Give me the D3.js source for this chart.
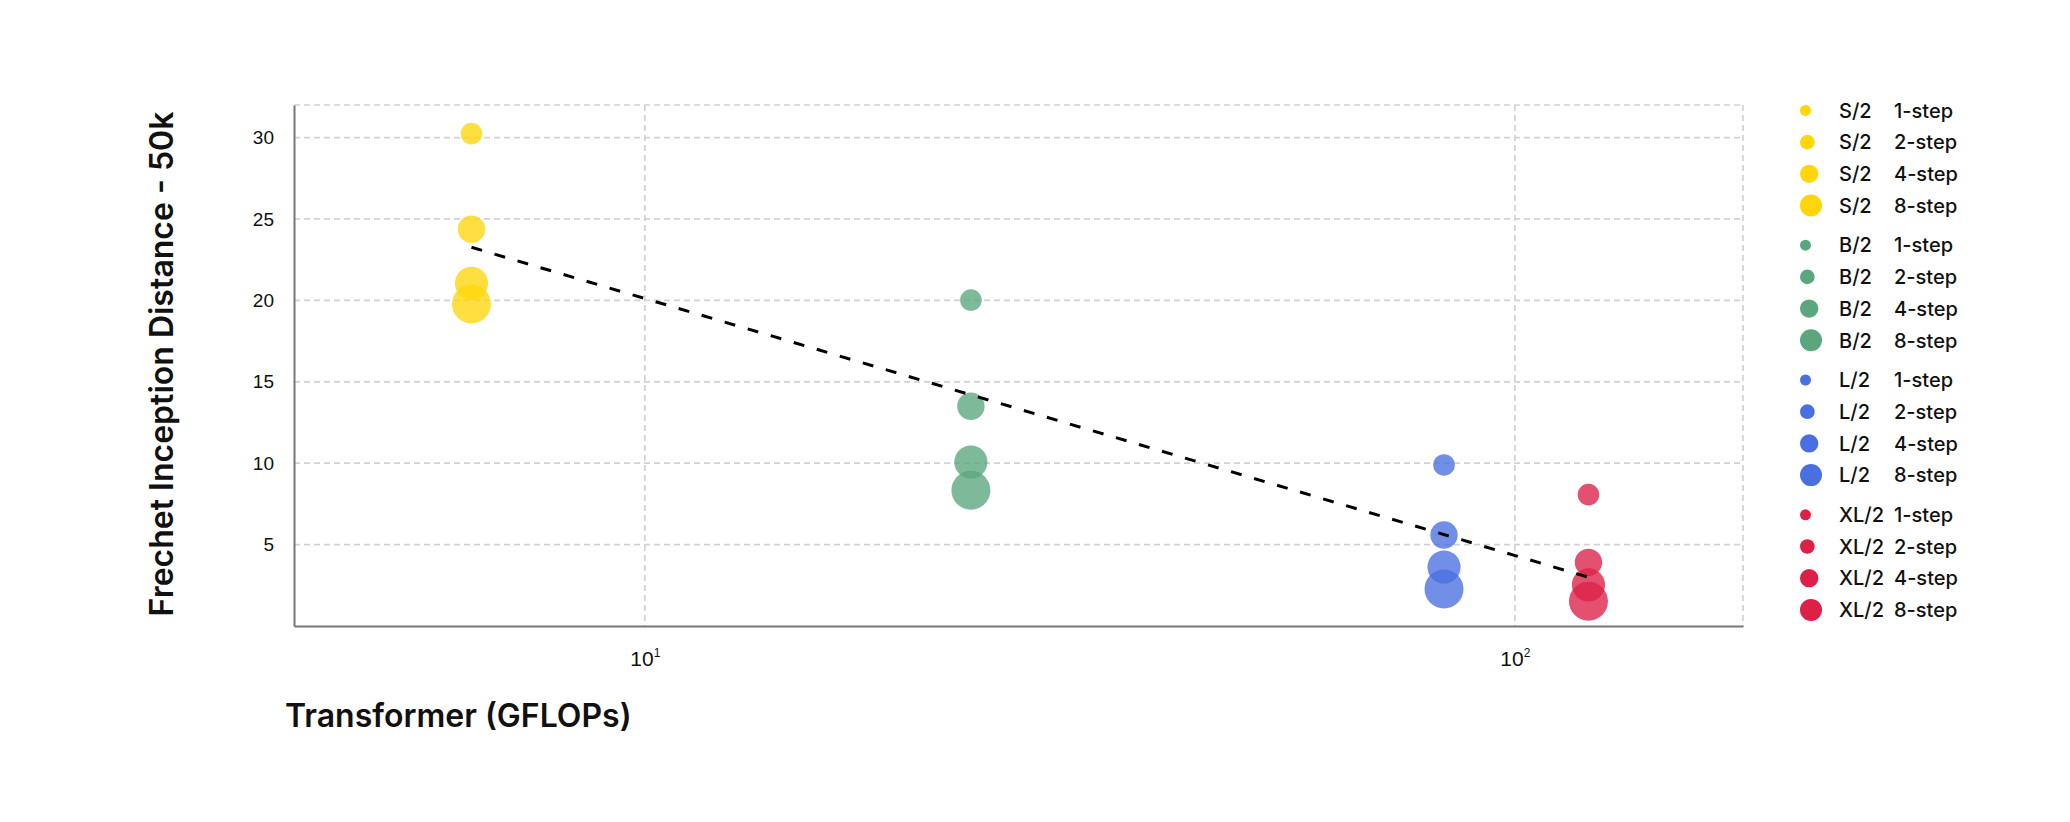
<!DOCTYPE html>
<html>
<head>
<meta charset="utf-8">
<script src="https://cdn.jsdelivr.net/npm/d3@7"></script>
<style>
  body { margin: 0; background: #fff; }
  svg { display: block; font-family: Inter, "Noto Sans", sans-serif; }
</style>
</head>
<body>
<svg id="chart" width="2070" height="822"></svg>
<script>
// data
const models = ["S/2", "B/2", "L/2", "XL/2"];
const steps = [1, 2, 4, 8];
const gflops = [6.32, 23.7, 82.9, 121.5];
const fidS = [30.24, 24.37, 21.05, 19.78];
const fidB = [20.02, 13.5, 10.07, 8.34];
const fidL = [9.89, 5.59, 3.62, 2.27];
const fidXL = [8.07, 3.91, 2.52, 1.52];
const colors = ["#FFD60A", "#5AA67D", "#4A6FE0", "#DD2048"];
const yTicks = [5, 10, 15, 20, 25, 30];
const xTicks = [10, 100];
const trendFlops = [6.32, 125];
const trendFid = [23.26, 2.8];

const fids = [fidS, fidB, fidL, fidXL];
const points = [];
models.forEach((m, i) => {
    steps.forEach((s, j) => {
        points.push({ model: m, step: s, flops: gflops[i], fid: fids[i][j], color: colors[i] });
    });
});

const svg = d3.select("#chart");
const plotLeft = 294, plotRight = 1743, plotTop = 105, plotBottom = 626;

const x = d3.scaleLog().domain([3.951, 182.9]).range([plotLeft, plotRight]);
const y = d3.scaleLinear().domain([0, 32]).range([plotBottom, plotTop]);
const r = d3.scaleLog().base(2).domain([1, 8]).range([10.8, 19.5]);
const rLegend = d3.scaleLog().base(2).domain([1, 8]).range([5.5, 11]);

// grid
const grid = svg.append("g")
    .attr("stroke", "#d2d2d2")
    .attr("stroke-width", 1.7)
    .attr("stroke-dasharray", "6,4");
grid.selectAll("line.h")
    .data(yTicks.concat([32]))
    .enter().append("line")
    .attr("x1", plotLeft).attr("x2", plotRight)
    .attr("y1", d => y(d)).attr("y2", d => y(d));
grid.selectAll("line.v")
    .data(xTicks.concat([182.9]))
    .enter().append("line")
    .attr("y1", plotTop).attr("y2", plotBottom)
    .attr("x1", d => x(d)).attr("x2", d => x(d));

// points
svg.append("g")
    .selectAll("circle")
    .data(points)
    .enter().append("circle")
    .attr("cx", d => x(d.flops))
    .attr("cy", d => y(d.fid))
    .attr("r", d => r(d.step))
    .attr("fill", d => d.color)
    .attr("fill-opacity", 0.78);

// trend line
const trend = trendFlops.map((f, i) => [f, trendFid[i]]);
svg.append("path")
    .datum(trend)
    .attr("fill", "none")
    .attr("stroke", "#000")
    .attr("stroke-width", 3)
    .attr("stroke-dasharray", "11,13")
    .attr("d", d3.line().x(d => x(d[0])).y(d => y(d[1])));

// axes
const yAxis = svg.append("g")
    .attr("transform", `translate(${plotLeft},0)`)
    .call(d3.axisLeft(y).tickValues(yTicks).tickSize(0).tickPadding(20));
const xAxis = svg.append("g")
    .attr("transform", `translate(0,${plotBottom})`)
    .call(d3.axisBottom(x).tickValues(xTicks).tickSize(0).tickPadding(25).tickFormat(() => "10"));

[yAxis, xAxis].forEach(a => {
    a.select(".domain").attr("stroke", "#777").attr("stroke-width", 2);
    a.selectAll("text").attr("fill", "#111").attr("font-weight", 500);
});
yAxis.selectAll("text").attr("font-size", 19);
xAxis.selectAll("text").attr("font-size", 21)
    .append("tspan")
    .attr("font-size", 12)
    .attr("dy", "-0.75em")
    .text(d => Math.round(Math.log10(d)));

// axis titles
svg.append("text")
    .attr("transform", "translate(173,364) rotate(-90)")
    .attr("text-anchor", "middle")
    .attr("font-size", 32)
    .attr("font-weight", 600)
    .attr("fill", "#111")
    .text("Frechet Inception Distance - 50k");

svg.append("text")
    .attr("x", 285)
    .attr("y", 727)
    .attr("font-size", 32)
    .attr("font-weight", 600)
    .attr("fill", "#111")
    .text("Transformer (GFLOPs)");

// legend
const legendRows = points.map((d, i) => ({ ...d, row: i, group: Math.floor(i / 4) }));
const legend = svg.append("g")
    .selectAll("g")
    .data(legendRows)
    .enter().append("g")
    .attr("transform", d => `translate(1800,${110.4 + d.row * 31.7 + d.group * 8})`);
legend.append("circle")
    .attr("cx", d => rLegend(d.step))
    .attr("r", d => rLegend(d.step))
    .attr("fill", d => d.color);
legend.append("text")
    .attr("x", 39)
    .attr("dy", "0.36em")
    .attr("font-size", 20)
    .attr("font-weight", 500)
    .attr("fill", "#111")
    .text(d => d.model);
legend.append("text")
    .attr("x", 94)
    .attr("dy", "0.36em")
    .attr("font-size", 20)
    .attr("font-weight", 500)
    .attr("fill", "#111")
    .text(d => d.step + "-step");
</script>
</body>
</html>
